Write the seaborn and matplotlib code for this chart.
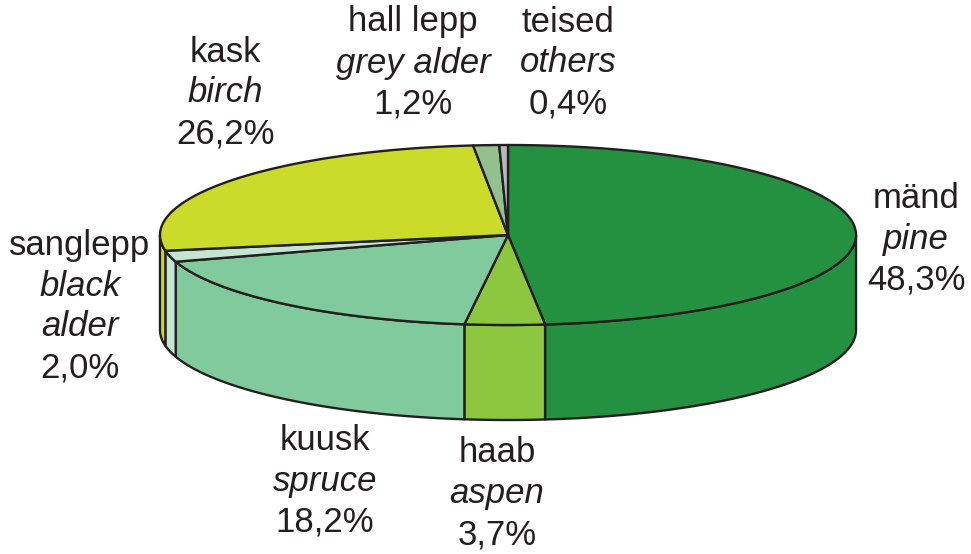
import numpy as np
import matplotlib
matplotlib.use("Agg")
import matplotlib.pyplot as plt
from matplotlib.patches import Polygon
import seaborn as sns

# tree species shares, clockwise from 12 o'clock
names_et = ["mänd", "haab", "kuusk", "sanglepp", "kask", "hall lepp", "teised"]
names_en = ["pine", "aspen", "spruce", "black\nalder", "birch", "grey alder", "others"]
shares = [48.3, 3.7, 18.2, 2.0, 26.2, 1.2, 0.4]
colors = ["#23913F", "#8DC63F", "#80CA9C", "#C3E5D2", "#CBDB2A", "#93C08F", "#B9B9BD"]

# label centres (pixels), kept apart from the data
label_xy = [(916, 198), (497, 453), (325, 440), (80, 245), (225, 52), (413, 22), (568, 22)]

sns.set_style("white")
plt.rcParams["font.family"] = ["Liberation Sans", "DejaVu Sans"]

line_col = "#231F20"
cx, cy, a, b, depth = 508, 235, 348, 90, 95
lw = 1.7

fig = plt.figure(figsize=(9.71, 5.54), dpi=100)
ax = fig.add_axes([0, 0, 1, 1])
ax.set_xlim(0, 971)
ax.set_ylim(554, 0)
ax.axis("off")


def arc(t0, t1, n=200):
    t = np.radians(np.linspace(t0, t1, n))
    return cx + a * np.cos(t), cy - b * np.sin(t)


cum = np.concatenate([[0], np.cumsum(shares)]) / sum(shares) * 360
starts = 90 - cum[:-1]
ends = 90 - cum[1:]

# side walls (front half only)
for s, e, c in zip(starts, ends, colors):
    lo, hi = max(e, -180), min(s, 0)
    if hi <= lo:
        continue
    x, y = arc(lo, hi)
    pts = np.vstack([np.column_stack([x, y]), np.column_stack([x[::-1], y[::-1] + depth])])
    ax.add_patch(Polygon(pts, closed=True, facecolor=c, edgecolor=line_col, lw=lw, joinstyle="round"))

# top faces
for s, e, c in zip(starts, ends, colors):
    x, y = arc(e, s)
    pts = np.vstack([[cx, cy], np.column_stack([x, y])])
    ax.add_patch(Polygon(pts, closed=True, facecolor=c, edgecolor=line_col, lw=lw, joinstyle="round"))

# labels: Estonian name, English name in italics, percentage
fs = 25
step = 41
for (lx, ly), et, en, v in zip(label_xy, names_et, names_en, shares):
    lines = [(et, "normal")] + [(t, "italic") for t in en.split("\n")]
    lines.append((f"{v:.1f}%".replace(".", ","), "normal"))
    for i, (t, st) in enumerate(lines):
        ax.text(lx, ly + i * step, t, ha="center", va="center", fontsize=fs,
                style=st, color=line_col)

fig.savefig("out.png", dpi=100)
